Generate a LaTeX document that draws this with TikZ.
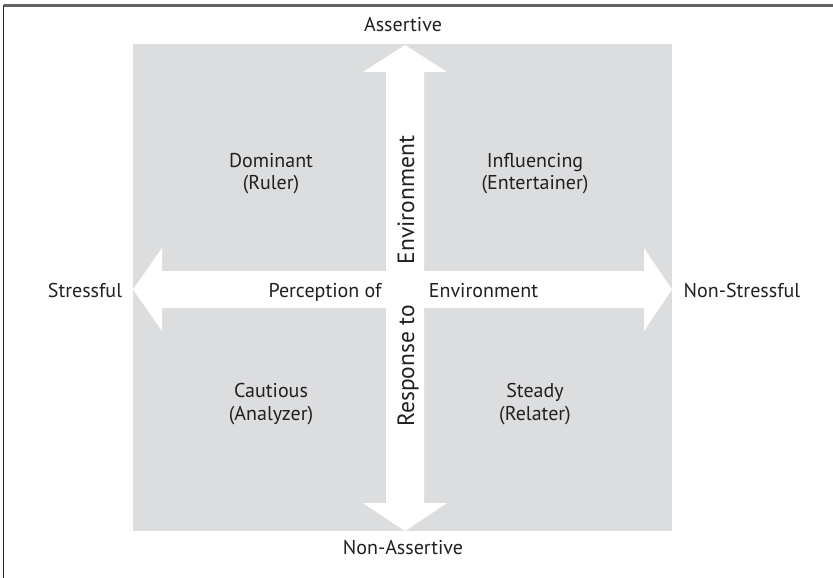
\documentclass[tikz,border=0pt]{standalone}
\usepackage{fontspec}
\setmainfont{PT Sans}
\definecolor{panel}{RGB}{220,221,222}
\definecolor{ink}{RGB}{35,31,32}
\definecolor{framegray}{RGB}{100,100,100}
\begin{document}
\begin{tikzpicture}[x=1pt,y=-1pt,
  lbl/.style={font=\fontsize{20}{24}\selectfont,text=ink,inner sep=0pt},
  vlbl/.style={font=\fontsize{23.5}{28}\selectfont,text=ink,inner sep=0pt,anchor=base,rotate=90},
  arrowshape/.style={fill=white,draw=none}]
\useasboundingbox (0,0) rectangle (833,578);
% frame
\draw[framegray,line width=2.5pt] (3.5,5.5) -- (833,5.5);
\draw[black!85,line width=1.5pt] (3.5,5.5) -- (3.5,578);
% panel
\fill[panel] (133,44) rectangle (672,531);
% named arrow ends
\coordinate (vtop) at (405,45);
\coordinate (vbot) at (405,531);
\coordinate (hleft) at (133,289.5);
\coordinate (hright) at (672,289.5);
% vertical double arrow
\fill[arrowshape] (vtop) -- (447,72) -- (424,72) -- (424,503) -- (447,503) -- (vbot)
  -- (363,503) -- (386,503) -- (386,72) -- (363,72) -- cycle;
% horizontal double arrow
\fill[arrowshape] (hleft) -- (162,248) -- (162,271) -- (644,271) -- (644,248) -- (hright)
  -- (644,331) -- (644,308) -- (162,308) -- (162,331) -- cycle;
% outer labels
\node[lbl] (assertive) at (403,25) {Assertive};
\node[lbl] (nonassertive) at (403,548) {Non-Assertive};
\node[lbl] (stressful) at (85,290) {Stressful};
\node[lbl] (nonstressful) at (742,290) {Non-Stressful};
% quadrant labels
\node[lbl,anchor=base] (dom) at (271,167) {Dominant};
\node[lbl,anchor=base] (ruler) at (271,189) {(Ruler)};
\node[lbl,anchor=base] (inf) at (535,167) {Influencing};
\node[lbl,anchor=base] (ent) at (535,189) {(Entertainer)};
\node[lbl,anchor=base] (cau) at (271,397) {Cautious};
\node[lbl,anchor=base] (ana) at (271,420) {(Analyzer)};
\node[lbl,anchor=base] (ste) at (535,397) {Steady};
\node[lbl,anchor=base] (rel) at (535,420) {(Relater)};
% axis texts
\node[lbl,anchor=base] (perc) at (325,297) {Perception of};
\node[lbl,anchor=base] (envh) at (483.5,297) {Environment};
\node[vlbl] (envv) at (414,200) {Environment};
\node[vlbl] (resp) at (414,366) {Response to};
\end{tikzpicture}
\end{document}
